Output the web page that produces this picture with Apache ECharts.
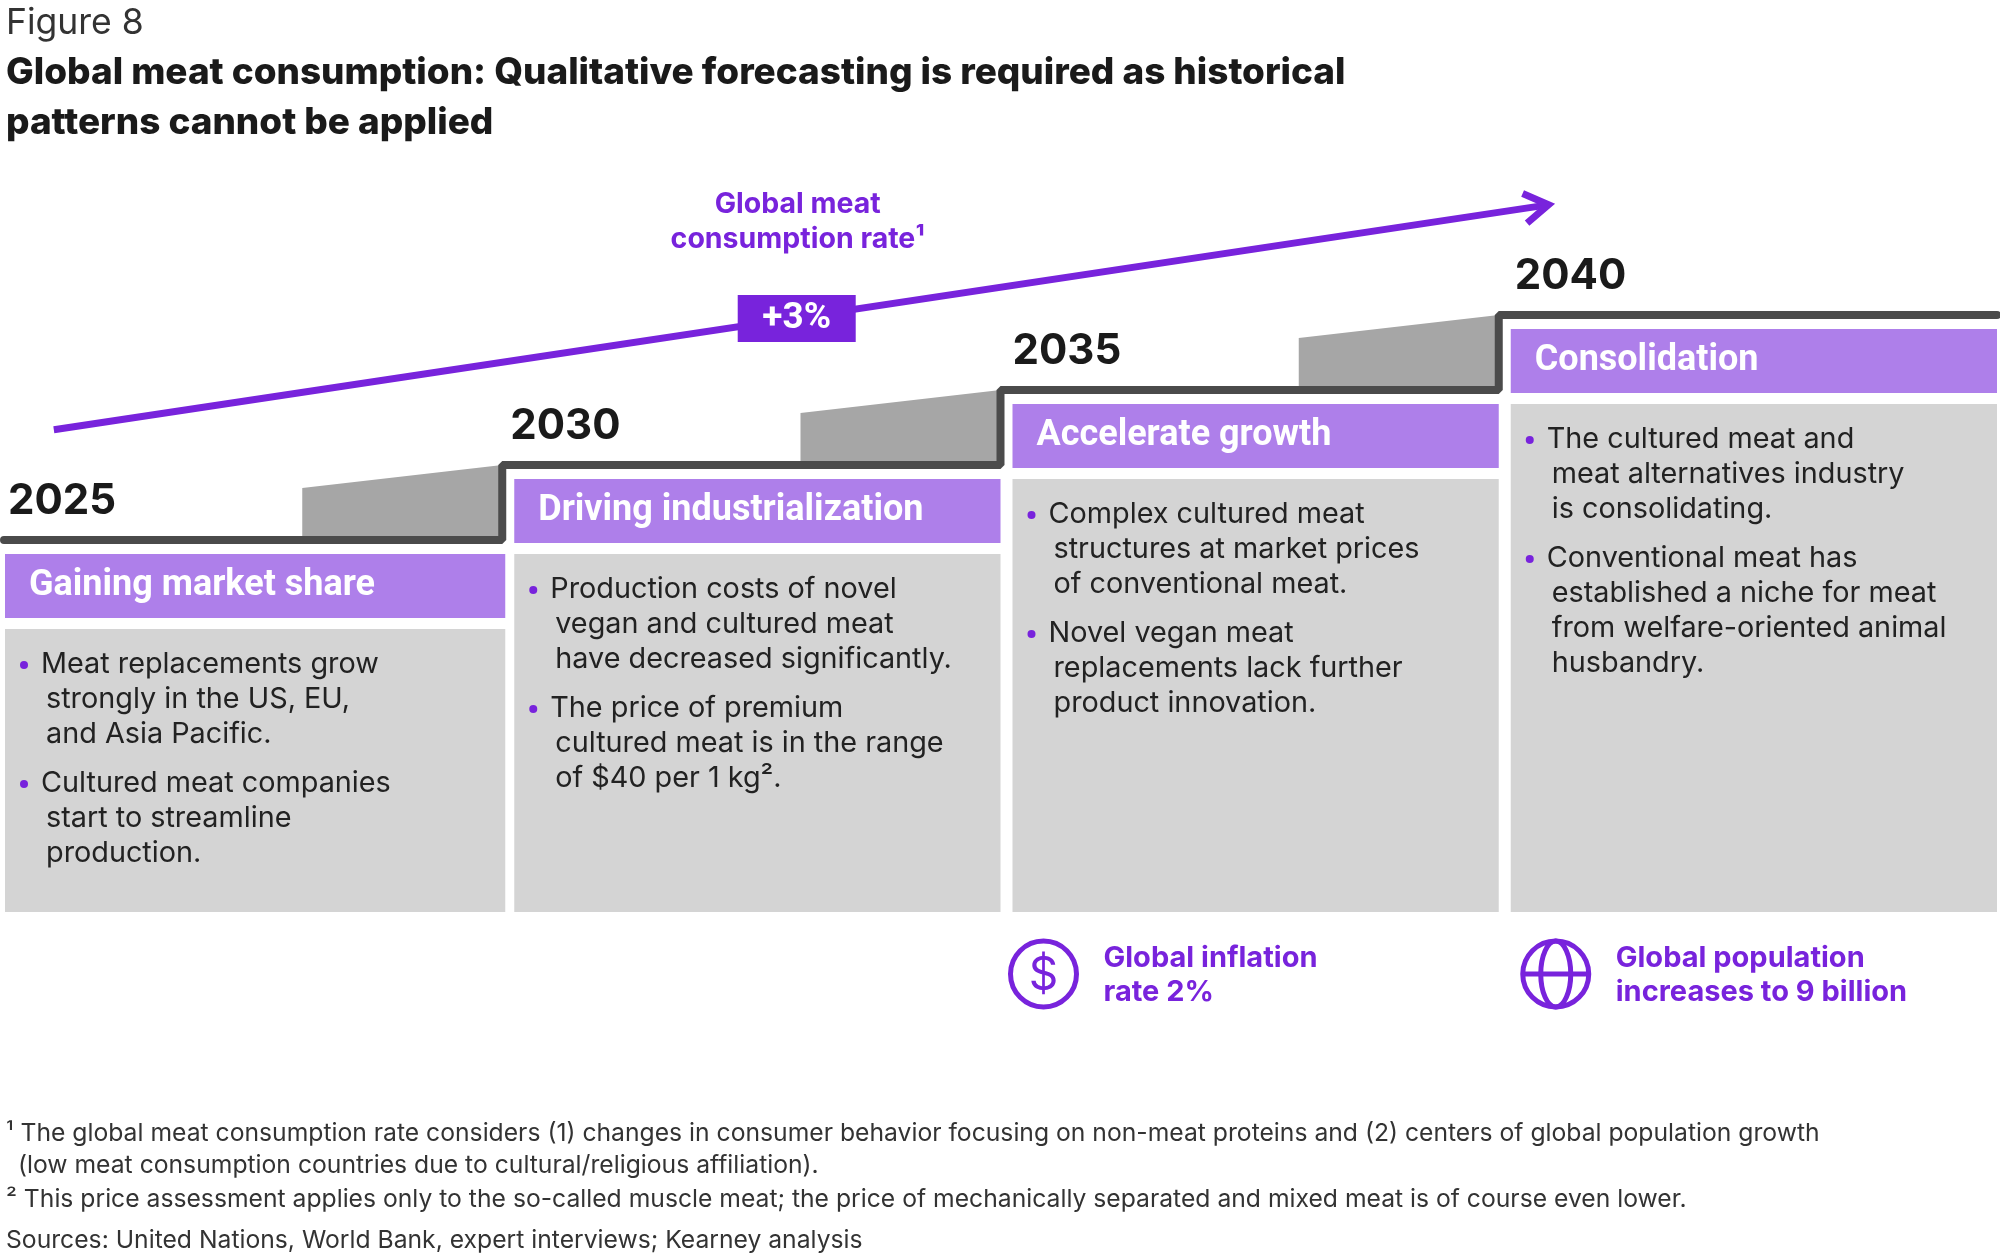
<!DOCTYPE html>
<html>
<head>
<meta charset="utf-8">
<script src="https://cdn.jsdelivr.net/npm/echarts@6/dist/echarts.min.js"></script>
<style>
html, body { margin: 0; padding: 0; background: #fff; }
#chart { width: 2000px; height: 1258px; }
</style>
</head>
<body>
<div id="chart"></div>
<script>
// ---- data ----
var years = ['2025', '2030', '2035', '2040'];
var stepLevels = [0, 1, 2, 3];
var phaseTitles = ['Gaining market share', 'Driving industrialization', 'Accelerate growth', 'Consolidation'];
var phaseBullets = [
    [['Meat replacements grow', 'strongly in the US, EU,', 'and Asia Pacific.'],
     ['Cultured meat companies', 'start to streamline', 'production.']],
    [['Production costs of novel', 'vegan and cultured meat', 'have decreased significantly.'],
     ['The price of premium', 'cultured meat is in the range', 'of $40 per 1 kg\u00b2.']],
    [['Complex cultured meat', 'structures at market prices', 'of conventional meat.'],
     ['Novel vegan meat', 'replacements lack further', 'product innovation.']],
    [['The cultured meat and', 'meat alternatives industry', 'is consolidating.'],
     ['Conventional meat has', 'established a niche for meat', 'from welfare-oriented animal', 'husbandry.']]
];
var trendStart = [0.1, 1.47];
var trendEnd = [3.1, 4.47];
var trendTitle = ['Global meat', 'consumption rate\u00b9'];
var trendRate = '+3%';
var driverColumns = [2, 3];
var driverIcons = ['dollar', 'globe'];
var driverTexts = [['Global inflation', 'rate 2%'], ['Global population', 'increases to 9 billion']];
var titleLines = ['Global meat consumption: Qualitative forecasting is required as historical', 'patterns cannot be applied'];
var footnotes = [
    '\u00b9 The global meat consumption rate considers (1) changes in consumer behavior focusing on non-meat proteins and (2) centers of global population growth',
    '(low meat consumption countries due to cultural/religious affiliation).',
    '\u00b2 This price assessment applies only to the so-called muscle meat; the price of mechanically separated and mixed meat is of course even lower.'
];
var sources = 'Sources: United Nations, World Bank, expert interviews; Kearney analysis';

// ---- styles ----
var PURPLE = '#7823dc';
var LIGHT_PURPLE = '#ae7fea';
var BOX_GREY = '#d4d4d4';
var WEDGE_GREY = '#a6a6a6';
var STEP_GREY = '#4b4b4b';
var TEXT = '#222222';
var BOLD = 'Roboto';
var HEAVY = 'Inter';
var REG = 'Inter';
var BOX_BOTTOM = 912;
var ICON_Y = 974;
var ICON_OFFSET = { 2: 43, 3: 57 };

function txt(text, x, y, size, weight, color, family, align) {
    return {
        type: 'text',
        style: {
            text: text, x: x, y: y,
            fontSize: size, fontWeight: weight, fontFamily: family,
            fill: color,
            align: align || 'left', textAlign: align || 'left',
            verticalAlign: 'middle', textVerticalAlign: 'middle'
        }
    };
}

var stepData = years.map(function (y, i) { return [i, stepLevels[i]]; });
stepData.push([years.length, stepLevels[stepLevels.length - 1]]);

var wedgeData = [];
for (var k = 0; k < years.length - 1; k++) {
    wedgeData.push([k, stepLevels[k], stepLevels[k + 1]]);
}

function renderWedge(params, api) {
    var i = api.value(0);
    var bR = api.coord([i + 1, api.value(1)]);
    var tR = api.coord([i + 1, api.value(2)]);
    var lx = bR[0] - 200;
    return {
        type: 'polygon',
        shape: { points: [[lx, bR[1]], [lx, bR[1] - 52], [tR[0], tR[1]], [bR[0], bR[1]]] },
        style: { fill: WEDGE_GREY }
    };
}

function renderPhase(params, api) {
    var i = api.value(0);
    var lvl = api.value(1);
    var pL = api.coord([i, lvl]);
    var pR = api.coord([i + 1, lvl]);
    var lineY = pL[1];
    var left = i === 0 ? pL[0] + 1 : pL[0] + 12;
    var right = i === 0 ? pR[0] + 3 : pR[0];
    var headTop = lineY + 14;
    var boxTop = headTop + 64 + 11;
    var kids = [];
    kids.push({ type: 'rect', shape: { x: left, y: headTop, width: right - left, height: 64 }, style: { fill: LIGHT_PURPLE } });
    kids.push({ type: 'rect', shape: { x: left, y: boxTop, width: right - left, height: BOX_BOTTOM - boxTop }, style: { fill: BOX_GREY } });
    kids.push(txt(years[i], pL[0] + 4 + 4 * i, lineY - 39, 42, 'bold', '#1a1a1a', HEAVY));
    kids.push(txt(phaseTitles[i], left + 24, headTop + 32, 36, 'bold', '#ffffff', BOLD));
    var y = boxTop + 35;
    phaseBullets[i].forEach(function (par) {
        par.forEach(function (line, j) {
            if (j === 0) {
                kids.push({ type: 'circle', shape: { cx: left + 19, cy: y + 1, r: 4 }, style: { fill: PURPLE } });
            }
            kids.push(txt(line, left + (j === 0 ? 36 : 41), y, 28.8, 'normal', TEXT, REG));
            y += 35;
        });
        y += 14;
    });
    return { type: 'group', children: kids };
}

function renderTrend(params, api) {
    var a = api.coord([api.value(0), api.value(1)]);
    var b = api.coord([api.value(2), api.value(3)]);
    var dx = b[0] - a[0], dy = b[1] - a[1];
    var len = Math.sqrt(dx * dx + dy * dy);
    var ux = dx / len, uy = dy / len;
    var nx = -uy, ny = ux;
    var back = 24, wide = 15;
    var m = [a[0] + dx * 0.497, a[1] + dy * 0.497];
    var kids = [
        { type: 'line', shape: { x1: a[0], y1: a[1], x2: b[0] - ux * 4, y2: b[1] - uy * 4 }, style: { stroke: PURPLE, lineWidth: 7 } },
        { type: 'polyline', shape: { points: [
            [b[0] - ux * back + nx * wide, b[1] - uy * back + ny * wide],
            [b[0], b[1]],
            [b[0] - ux * back - nx * wide, b[1] - uy * back - ny * wide]] },
          style: { stroke: PURPLE, lineWidth: 7, fill: null, lineJoin: 'miter' } },
        { type: 'rect', shape: { x: m[0] - 59, y: m[1] - 23, width: 118, height: 47 }, style: { fill: PURPLE } },
        txt(trendRate, m[0], m[1] + 1, 37, 'bold', '#ffffff', BOLD, 'center'),
        txt(trendTitle[0], m[0] + 1, m[1] - 113, 28.5, 'bold', PURPLE, HEAVY, 'center'),
        txt(trendTitle[1], m[0] + 1, m[1] - 78, 28.5, 'bold', PURPLE, HEAVY, 'center')
    ];
    return { type: 'group', children: kids };
}

function renderDriver(params, api) {
    var col = api.value(0);
    var idx = api.value(1);
    var x0 = api.coord([col, 0])[0];
    var cx = x0 + ICON_OFFSET[col];
    var kids = [
        { type: 'circle', shape: { cx: cx, cy: ICON_Y, r: 33 }, style: { stroke: PURPLE, lineWidth: 5, fill: null } }
    ];
    if (driverIcons[idx] === 'dollar') {
        kids.push(txt('$', cx, ICON_Y + 2, 46, 'normal', PURPLE, REG, 'center'));
    } else {
        kids.push({ type: 'ellipse', shape: { cx: cx, cy: ICON_Y, rx: 15, ry: 33 }, style: { stroke: PURPLE, lineWidth: 5, fill: null } });
        kids.push({ type: 'line', shape: { x1: cx - 33, y1: ICON_Y, x2: cx + 33, y2: ICON_Y }, style: { stroke: PURPLE, lineWidth: 5 } });
    }
    kids.push(txt(driverTexts[idx][0], cx + 60, ICON_Y - 16, 29, 'bold', PURPLE, HEAVY));
    kids.push(txt(driverTexts[idx][1], cx + 60, ICON_Y + 18, 29, 'bold', PURPLE, HEAVY));
    return { type: 'group', children: kids };
}

var graphics = [];
function gtext(text, x, y, size, weight, color, family) {
    graphics.push({
        type: 'text', x: x, y: y,
        style: {
            text: text, fontSize: size, fontWeight: weight, fontFamily: family, fill: color,
            align: 'left', textAlign: 'left', verticalAlign: 'middle', textVerticalAlign: 'middle'
        }
    });
}
gtext('Figure 8', 6, 23, 35.5, 'normal', '#333333', REG);
gtext(titleLines[0], 6, 73, 36.9, 800, '#1a1a1a', HEAVY);
gtext(titleLines[1], 6, 123, 36.9, 800, '#1a1a1a', HEAVY);
gtext(footnotes[0], 6, 1134, 24.7, 'normal', '#333333', REG);
gtext(footnotes[1], 18, 1166, 24.7, 'normal', '#333333', REG);
gtext(footnotes[2], 6, 1200, 24.7, 'normal', '#333333', REG);
gtext(sources, 6, 1241, 24.7, 'normal', '#333333', REG);

var myChart = echarts.init(document.getElementById('chart'));
var option = {
    animation: false,
    grid: { left: 4, right: 3, top: 315, bottom: 718 },
    xAxis: { type: 'value', min: 0, max: 4, show: false },
    yAxis: { type: 'value', min: 0, max: 3, show: false },
    graphic: graphics,
    series: [
        { type: 'custom', z: 1, renderItem: renderWedge, data: wedgeData, clip: false },
        {
            type: 'line', z: 2, step: 'end', data: stepData, symbol: 'none', clip: false,
            lineStyle: { color: STEP_GREY, width: 8, cap: 'round' }
        },
        { type: 'custom', z: 3, renderItem: renderPhase, data: stepData.slice(0, years.length), clip: false },
        { type: 'custom', z: 4, renderItem: renderTrend, data: [[trendStart[0], trendStart[1], trendEnd[0], trendEnd[1]]], clip: false },
        { type: 'custom', z: 4, renderItem: renderDriver, data: driverColumns.map(function (c, i) { return [c, i]; }), clip: false }
    ]
};
myChart.setOption(option);
</script>
</body>
</html>
